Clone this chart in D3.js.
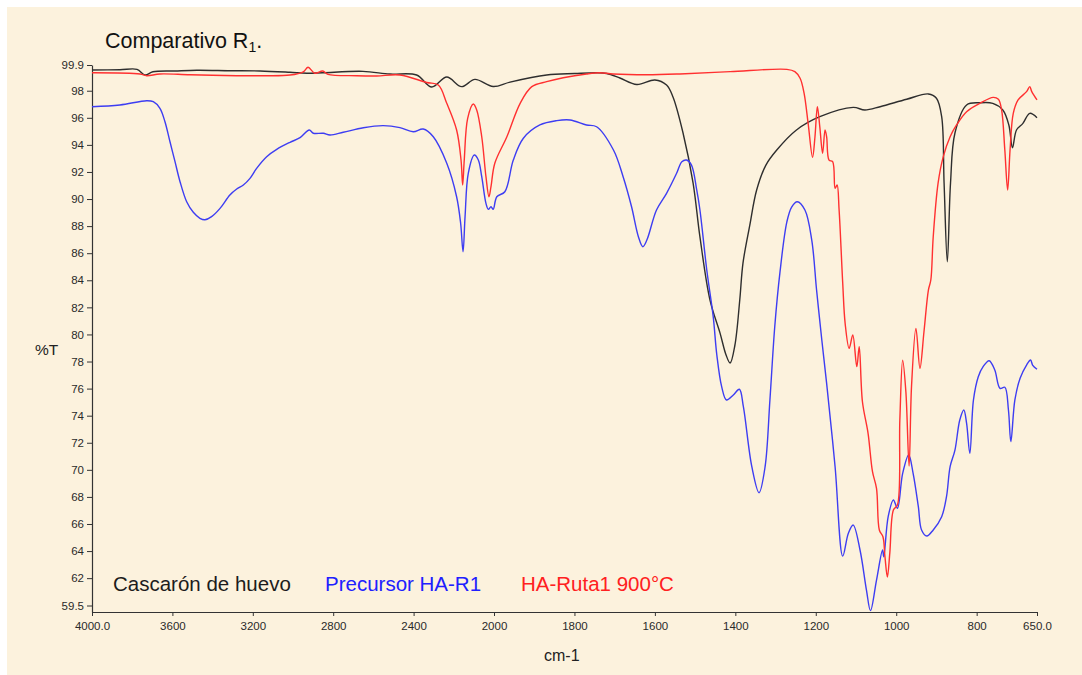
<!DOCTYPE html>
<html>
<head>
<meta charset="utf-8">
<script src="https://cdn.jsdelivr.net/npm/d3@7"></script>
<style>
  html, body { margin: 0; padding: 0; background: #ffffff; }
  svg { display: block; }
</style>
</head>
<body>
<svg id="chart" width="1082" height="675"></svg>
<script>
// Axis ticks
const xTicks = [4000, 3600, 3200, 2800, 2400, 2000, 1800, 1600, 1400, 1200, 1000, 800, 650];
const yTicks = [59.5, 62, 64, 66, 68, 70, 72, 74, 76, 78, 80, 82, 84, 86, 88, 90, 92, 94, 96, 98, 99.9];

// Series names (legend)
const seriesNames = ["Cascarón de huevo", "Precursor HA-R1", "HA-Ruta1 900°C"];

// FTIR spectra: [wavenumber cm-1, %T]
const shell = [
  [4000,99.53],[3861,99.55],[3776,99.58],[3736,99.16],[3697,99.40],[3587,99.46],[3478,99.51],
  [3314,99.48],[3164,99.46],[3015,99.36],[2932,99.29],[2851,99.33],[2652,99.43],[2518,99.23],
  [2385,99.16],[2310,98.27],[2235,99.01],[2161,98.30],[2095,98.84],[2004,98.31],[1960,98.64],
  [1869,99.16],[1799,99.27],[1745,99.33],[1720,99.27],[1687,98.94],[1645,98.46],[1600,98.79],
  [1571,98.42],[1555,97.54],[1530,94.88],[1505,91.18],[1488,87.2],[1463,82.54],[1438,80.10],
  [1423,78.48],[1413,77.89],[1401,79.22],[1389,82.54],[1381,85.27],[1364,88.08],[1347,90.67],
  [1324,92.51],[1297,93.62],[1248,95.10],[1190,96.08],[1107,96.77],[1078,96.58],[1040,96.82],
  [974,97.37],[920,97.76],[900,97.44],[887,96.08],[881,91.18],[873,85.37],[865,91.18],
  [854,94.88],[825,96.95],[792,97.11],[760,97.07],[735,96.58],[720,95.47],[711,93.79],
  [701,95.10],[685,95.59],[668,96.33],[650,96.01]
];

const precursor = [
  [4000,96.82],[3861,96.95],[3728,97.26],[3695,97.19],[3662,96.70],[3637,95.71],[3612,94.23],
  [3587,92.76],[3562,91.28],[3529,89.80],[3496,89.02],[3463,88.58],[3438,88.47],[3405,88.70],
  [3363,89.31],[3314,90.30],[3280,90.74],[3247,91.04],[3214,91.53],[3181,92.27],[3131,93.13],
  [3081,93.67],[3015,94.19],[2965,94.53],[2919,95.10],[2899,94.86],[2849,94.86],[2816,94.73],
  [2750,94.93],[2650,95.27],[2551,95.42],[2468,95.27],[2402,94.97],[2352,95.17],[2302,94.60],
  [2235,92.64],[2186,90.17],[2166,88.21],[2154,86.11],[2144,88.70],[2128,91.90],[2098,93.25],
  [2078,92.88],[2061,91.65],[2040,89.68],[2028,89.24],[2015,89.43],[2004,89.24],[1993,90.17],
  [1973,90.54],[1952,92.88],[1927,94.49],[1886,95.47],[1844,95.79],[1811,95.84],[1770,95.47],
  [1745,95.34],[1703,93.62],[1679,91.65],[1658,89.43],[1641,87.22],[1630,86.48],[1620,86.97],
  [1596,89.19],[1571,90.42],[1546,91.90],[1533,92.76],[1521,92.88],[1509,92.51],[1496,90.67],
  [1488,89.19],[1471,84.76],[1455,81.31],[1446,78.48],[1434,76.14],[1422,75.16],[1405,75.53],
  [1390,75.95],[1380,74.66],[1359,70.23],[1341,68.31],[1326,70.23],[1314,75.16],[1302,80.57],
  [1289,84.60],[1272,88.30],[1260,89.41],[1246,89.80],[1227,89.19],[1210,86.97],[1198,83.28],
  [1185,79.59],[1173,76.39],[1152,70.23],[1133,63.63],[1119,65.31],[1107,65.92],[1090,64.08],
  [1074,61.12],[1064,59.60],[1049,61.86],[1034,64.08],[1031,63.58],[1020,66.54],[1007,67.77],
  [997,67.16],[984,69.74],[969,71.10],[958,69.74],[945,67.28],[937,65.56],[924,65.11],
  [908,65.56],[887,66.54],[875,68.02],[866,70.23],[854,71.46],[842,73.68],[832,74.42],
  [825,73.43],[817,71.22],[808,75.16],[796,76.88],[784,77.62],[769,78.06],[755,77.37],
  [742,76.02],[730,76.10],[721,74.42],[715,72.08],[705,75.16],[692,76.76],[676,77.74],
  [666,78.11],[661,77.74],[650,77.43]
];

const calcined = [
  [4000,99.33],[3761,99.24],[3728,99.11],[3662,99.24],[3513,99.18],[3280,99.11],[3149,99.11],
  [3015,99.16],[2949,99.40],[2925,99.73],[2891,99.29],[2852,99.46],[2826,99.21],[2683,99.11],
  [2584,99.09],[2468,99.16],[2335,98.61],[2277,98.42],[2235,97.07],[2186,95.10],[2164,92.88],
  [2156,91.04],[2148,92.88],[2131,95.96],[2103,97.02],[2086,96.58],[2061,94.60],[2040,91.65],
  [2025,90.17],[2015,90.91],[1998,92.64],[1968,94.60],[1935,97.07],[1906,98.30],[1869,98.67],
  [1828,98.96],[1770,99.24],[1737,99.33],[1704,99.24],[1620,99.18],[1538,99.24],[1413,99.41],
  [1272,99.58],[1252,99.41],[1239,98.92],[1229,97.81],[1219,95.59],[1208,93.08],[1202,94.60],
  [1196,96.82],[1190,95.34],[1183,93.38],[1177,95.10],[1173,94.60],[1167,92.88],[1158,92.76],
  [1152,90.79],[1147,91.04],[1142,89.19],[1133,83.78],[1127,80.82],[1117,78.97],[1108,79.96],
  [1098,77.62],[1092,79.09],[1084,75.03],[1070,72.70],[1059,69.86],[1049,68.63],[1042,65.56],
  [1033,65.06],[1028,63.58],[1022,62.08],[1016,63.83],[1007,67.03],[997,67.40],[991,73.68],
  [984,78.09],[976,75.77],[968,70.28],[962,76.14],[951,80.45],[941,77.50],[931,80.20],
  [920,83.28],[914,84.02],[908,87.22],[896,91.16],[883,93.13],[866,94.60],[850,95.47],
  [825,96.45],[792,97.07],[759,97.51],[746,97.37],[738,96.58],[730,93.62],[723,90.67],
  [717,93.62],[709,96.33],[697,97.32],[676,97.93],[668,98.30],[663,97.93],[650,97.32]
];

const seriesColors = ["#2e2e2e", "#3d3df2", "#ff3030"];
const legendColors = ["#1c1c1c", "#2020ff", "#ff2020"];

const svg = d3.select("#chart");

// Cream page background
svg.append("rect")
  .attr("x", 7).attr("y", 7)
  .attr("width", 1082 - 7).attr("height", 675 - 7)
  .attr("fill", "#fcf2dd");

// Wavenumber axis changes scale at 2000 cm-1
const x = d3.scaleLinear().domain([4000, 2000, 650]).range([92, 494, 1037]);
const y = d3.scaleLinear().domain([59.5, 99.9]).range([612, 65]);

const tickFont = "'Liberation Sans', Arial, sans-serif";

// X axis
const xAxis = svg.append("g")
  .attr("transform", `translate(0,${y(59.5)})`)
  .call(d3.axisBottom(x)
    .tickValues(xTicks)
    .tickSize(4)
    .tickSizeOuter(0)
    .tickPadding(6)
    .tickFormat(d => (d === 4000 || d === 650) ? d.toFixed(1) : String(d)));

// Y axis
const yAxis = svg.append("g")
  .attr("transform", `translate(${x(4000)},0)`)
  .call(d3.axisLeft(y)
    .tickValues(yTicks)
    .tickSize(5)
    .tickSizeOuter(0)
    .tickPadding(3)
    .tickFormat(d => String(d)));

// Lowest y tick sits a little above the baseline, as in the instrument printout
yAxis.selectAll(".tick").filter(d => d === 59.5)
  .attr("transform", `translate(0,${y(59.5) - 6})`);

[xAxis, yAxis].forEach(g => {
  g.selectAll("path.domain").attr("stroke", "#333").attr("stroke-width", 1.2);
  g.selectAll(".tick line").attr("stroke", "#333").attr("stroke-width", 1);
  g.selectAll(".tick text")
    .attr("fill", "#2a2a2a")
    .style("font-family", tickFont)
    .style("font-size", "11.5px");
});

// Spectra
const line = d3.line()
  .x(d => x(d[0]))
  .y(d => y(d[1]))
  .curve(d3.curveCatmullRom.alpha(0.5));

[shell, precursor, calcined].forEach((data, i) => {
  svg.append("path")
    .datum(data)
    .attr("fill", "none")
    .attr("stroke", seriesColors[i])
    .attr("stroke-width", 1.4)
    .attr("stroke-linejoin", "round")
    .attr("d", line);
});

// Title
const title = svg.append("text")
  .attr("x", 105).attr("y", 48)
  .attr("fill", "#111")
  .style("font-family", "'Liberation Sans', Arial, sans-serif")
  .style("font-size", "21.5px");
title.append("tspan").text("Comparativo R");
title.append("tspan").attr("dy", 4).style("font-size", "14px").text("1");
title.append("tspan").attr("dy", -4).text(".");

// Axis titles
svg.append("text")
  .attr("x", 35).attr("y", 355)
  .attr("fill", "#222")
  .style("font-family", "'Liberation Sans', Arial, sans-serif")
  .style("font-size", "15.5px")
  .text("%T");

svg.append("text")
  .attr("x", 544).attr("y", 661)
  .attr("fill", "#222")
  .style("font-family", "'Liberation Sans', Arial, sans-serif")
  .style("font-size", "16px")
  .text("cm-1");

// Legend
const legendX = [113, 325, 521];
seriesNames.forEach((name, i) => {
  svg.append("text")
    .attr("x", legendX[i]).attr("y", 591)
    .attr("fill", legendColors[i])
    .style("font-family", "'Liberation Sans', Arial, sans-serif")
    .style("font-size", "20.5px")
    .text(name);
});
</script>
</body>
</html>
